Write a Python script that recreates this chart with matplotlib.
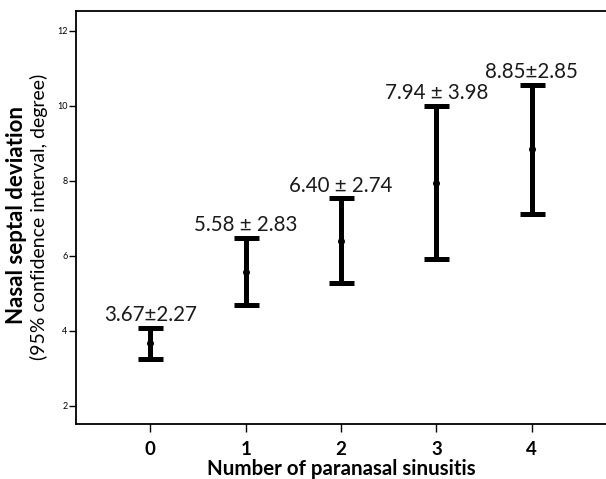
import matplotlib
matplotlib.use("Agg")
import matplotlib.pyplot as plt

groups = [0, 1, 2, 3, 4]
means = [3.67, 5.58, 6.40, 7.94, 8.85]
ci_low = [3.24, 4.69, 5.28, 5.91, 7.11]
ci_high = [4.09, 6.48, 7.53, 10.00, 10.56]
labels = ["3.67\u00b12.27", "5.58 \u00b1 2.83", "6.40 \u00b1 2.74", "7.94 \u00b1 3.98", "8.85\u00b12.85"]
yticks = [2, 4, 6, 8, 10, 12]

plt.rcParams['font.family'] = ['Lato', 'DejaVu Sans']

fig = plt.figure(figsize=(6.06, 4.79), dpi=100)
ax = fig.add_axes([76/606, 1-424/479, 1-76/606, (424-10.7)/479])

yerr = [[m - l for m, l in zip(means, ci_low)], [h - m for m, h in zip(means, ci_high)]]
ax.errorbar(groups, means, yerr=yerr, fmt='o', color='black', ms=4,
            elinewidth=3.6, capsize=9, capthick=3.6)

for g, h, t in zip(groups, ci_high, labels):
    ax.annotate(t, (g, h), xytext=(0, 9), textcoords='offset points',
                ha='center', va='center', fontsize=14.8, color='#1a1a1a')

ax.set_xlim(-0.78, 4.78)
ax.set_ylim(1.52, 12.53)
ax.set_xticks(groups)
ax.set_xticklabels([str(g) for g in groups], fontsize=13.5, fontweight='bold')
ax.set_yticks(yticks)
ax.set_yticklabels([str(y) for y in yticks], fontsize=6.5)
ax.tick_params(axis='y', length=5, width=1, pad=1)
ax.tick_params(axis='x', length=6, width=1, pad=6)
for s in ['left', 'top', 'bottom']:
    ax.spines[s].set_linewidth(1.3)
ax.spines['right'].set_visible(False)

ax.set_xlabel("Number of paranasal sinusitis", fontsize=14.8, fontweight='bold', labelpad=1)

fig.text(17/606, 1-215/479, "Nasal septal deviation", rotation=90, fontsize=16,
         fontweight='bold', ha='center', va='center')
fig.text(39/606, 1-217/479, "(95% confidence interval, degree)", rotation=90, fontsize=14,
         ha='center', va='center')

fig.savefig("out.png", dpi=100)
